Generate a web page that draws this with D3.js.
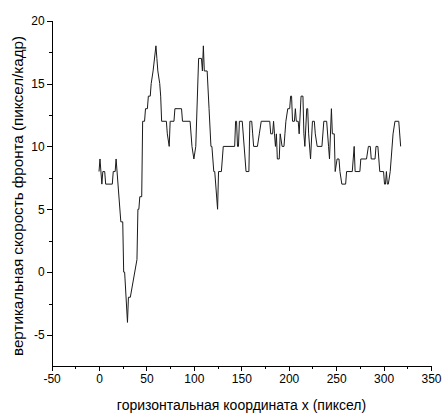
<!DOCTYPE html>
<html>
<head>
<meta charset="utf-8">
<script src="https://cdn.jsdelivr.net/npm/d3@7"></script>
<style>
  html, body { margin: 0; padding: 0; background: #fff; }
  svg { display: block; font-family: "Liberation Sans", Arial, sans-serif; }
  .axis path, .axis line { stroke: #000; shape-rendering: crispEdges; }
  .axis text { fill: #000; font-size: 12px; }
  .axis-label { fill: #000; font-size: 14px; }
  .axis-label__y { font-size: 15.2px; }
  .trace { fill: none; stroke: #1a1a1a; stroke-width: 1; }
</style>
</head>
<body>
<div id="chart"></div>
<script>
'use strict';

// vertices of the trace (x in pixels, y in pixels/frame)
var xValues = [
  0, 1, 3, 4, 6, 7, 14, 15, 17, 18, 23, 25, 26, 27, 30, 31, 33, 40, 41, 42,
  43, 45, 46, 48, 49, 51, 52, 54, 55, 57, 60, 61, 62, 64, 65, 66, 71, 72, 74, 75,
  79, 80, 87, 88, 96, 98, 100, 102, 105, 108, 109, 110, 111, 114, 116, 118, 119, 121, 122, 125,
  126, 129, 131, 143, 144, 145, 146, 147, 148, 151, 154, 155, 158, 159, 161, 162, 163, 167, 169, 171,
  180, 181, 183, 184, 185, 186, 187, 188, 190, 191, 193, 195, 196, 197, 199, 201, 202, 203, 204, 206,
  207, 208, 210, 211, 213, 215, 216, 217, 219, 220, 221, 223, 225, 227, 228, 230, 235, 237, 240, 242,
  243, 245, 246, 248, 249, 251, 253, 254, 256, 260, 261, 267, 268, 269, 270, 275, 276, 282, 284, 286,
  287, 291, 292, 294, 296, 300, 301, 302, 303, 304, 305, 307, 308, 310, 312, 316, 318
];
var yValues = [
  8, 9, 7, 8, 8, 7, 7, 8, 8, 9, 4, 4, 0, 0, -4, -2, -2, 1, 5, 5,
  6, 6, 12, 12, 13, 13, 14, 14, 15, 16, 18, 17, 16, 15, 14, 12, 12, 11, 10, 12,
  12, 13, 13, 12, 12, 10, 9, 10, 17, 17, 16, 18, 16, 16, 13, 10, 10, 8, 8, 5,
  8, 8, 10, 10, 12, 12, 10, 10, 12, 12, 9, 8, 8, 12, 12, 11, 10, 10, 11, 12,
  12, 11, 11, 12, 11, 10, 11, 9, 9, 11, 10, 10, 11, 12, 13, 13, 14, 14, 12, 12,
  13, 12, 12, 11, 14, 14, 11, 10, 13, 13, 11, 9, 12, 12, 11, 10, 10, 12, 12, 10,
  9, 13, 11, 11, 8, 9, 9, 8, 7, 7, 8, 8, 9, 10, 8, 8, 9, 9, 10, 10,
  9, 9, 10, 10, 8, 8, 7, 7, 8, 7, 7, 8, 9, 11, 12, 12, 10
];

var xMajorTicks = [-50, 0, 50, 100, 150, 200, 250, 300, 350];
var xMinorTicks = [-25, 25, 75, 125, 175, 225, 275, 325];
var yMajorTicks = [-5, 0, 5, 10, 15, 20];
var yMinorTicks = [-2.5, 2.5, 7.5, 12.5, 17.5];

var xLabel = 'горизонтальная координата х (пиксел)';
var yLabel = 'вертикальная скорость фронта (пиксел/кадр)';

var baseWidth = 442,
    baseHeight = 414;

// plain hyphen for negatives, like the original
var plainNumber = function( d ) { return String( d ); };

var x = d3.scaleLinear()
    .domain( [ -50, 350 ] )
    .range( [ 51.6, 431 ] );

var y = d3.scaleLinear()
    .domain( [ -7.5, 20 ] )
    .range( [ 366.4, 20.7 ] );

var svg = d3.select( '#chart' )
  .append( 'svg' )
    .attr( 'width', baseWidth )
    .attr( 'height', baseHeight );

// bottom axis, major then minor ticks
svg.append( 'g' )
  .attr( 'class', 'axis axis__x' )
  .attr( 'transform', 'translate(0,' + y( -7.5 ) + ')' )
  .call( d3.axisBottom( x )
    .tickValues( xMajorTicks )
    .tickSize( 5 )
    .tickSizeOuter( 0 )
    .tickPadding( 3 )
    .tickFormat( plainNumber ) );

svg.append( 'g' )
  .attr( 'class', 'axis axis__x-minor' )
  .attr( 'transform', 'translate(0,' + y( -7.5 ) + ')' )
  .call( d3.axisBottom( x )
    .tickValues( xMinorTicks )
    .tickSize( 3 )
    .tickSizeOuter( 0 )
    .tickFormat( '' ) )
  .select( '.domain' ).remove();

// left axis
svg.append( 'g' )
  .attr( 'class', 'axis axis__y' )
  .attr( 'transform', 'translate(' + x( -50 ) + ',0)' )
  .call( d3.axisLeft( y )
    .tickValues( yMajorTicks )
    .tickSize( 5 )
    .tickSizeOuter( 0 )
    .tickPadding( 2 )
    .tickFormat( plainNumber ) );

svg.append( 'g' )
  .attr( 'class', 'axis axis__y-minor' )
  .attr( 'transform', 'translate(' + x( -50 ) + ',0)' )
  .call( d3.axisLeft( y )
    .tickValues( yMinorTicks )
    .tickSize( 3 )
    .tickSizeOuter( 0 )
    .tickFormat( '' ) )
  .select( '.domain' ).remove();

// the trace
var line = d3.line()
  .x( function( d ) { return x( d[0] ); } )
  .y( function( d ) { return y( d[1] ); } );

svg.append( 'path' )
  .attr( 'class', 'trace' )
  .attr( 'd', line( d3.zip( xValues, yValues ) ) );

// axis titles
svg.append( 'text' )
  .attr( 'class', 'axis-label' )
  .attr( 'text-anchor', 'middle' )
  .attr( 'x', 241.5 )
  .attr( 'y', 410 )
  .text( xLabel );

svg.append( 'text' )
  .attr( 'class', 'axis-label axis-label__y' )
  .attr( 'text-anchor', 'middle' )
  .attr( 'transform', 'translate(23,196) rotate(-90)' )
  .text( yLabel );
</script>
</body>
</html>
